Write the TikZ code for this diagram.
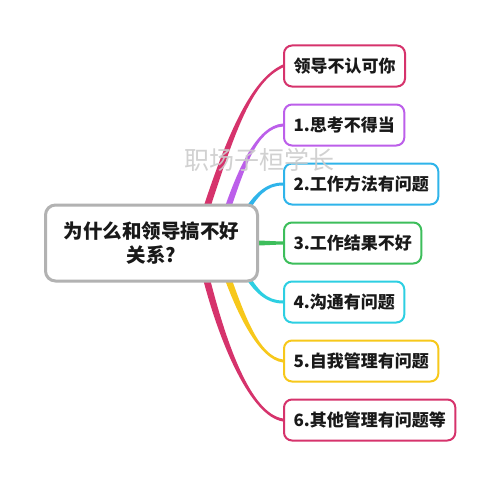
\documentclass[tikz,border=0pt]{standalone}
\usepackage{fontspec}
\setmainfont{Noto Sans CJK SC}
\usetikzlibrary{calc,backgrounds}
\definecolor{crim}{HTML}{D6336C}
\definecolor{purp}{HTML}{BC5FEA}
\definecolor{skyb}{HTML}{2FB4EA}
\definecolor{grn}{HTML}{3DBE5B}
\definecolor{cyn}{HTML}{2DCFE2}
\definecolor{ylw}{HTML}{F7C81B}
% tapered connector: colour, start, control 1, control 2, end, start half-width vector, end half-width vector
\newcommand\taperlink[7]{\fill[#1] ($#2+#6$) .. controls ($#3+#6$) and ($#4+#7$) .. ($#5+#7$)
  -- ($#5-#7$) .. controls ($#4-#7$) and ($#3-#6$) .. ($#2-#6$) -- cycle;}
\begin{document}
\begin{tikzpicture}[x=1pt,y=-1pt,
  leaf/.style={draw=#1, line width=2pt, rounded corners=8pt, fill=white, anchor=west,
    minimum height=41pt, inner xsep=9.5pt, font=\fontsize{17}{20}\selectfont\bfseries, text=black!90},
]
\useasboundingbox (0,0) rectangle (500,487);
\node[draw=black!30, line width=3pt, rounded corners=10pt, fill=white,
  minimum width=212pt, minimum height=76pt, align=center,
  font=\fontsize{19.5}{24}\selectfont\bfseries, text=black!90] (q) at (151.5,243)
  {为什么和领导搞不好\\关系?};
\node[leaf=crim] (a0) at (283,66) {领导不认可你};
\node[leaf=purp] (a1) at (283,125) {1.思考不得当};
\node[leaf=skyb] (a2) at (283,184) {2.工作方法有问题};
\node[leaf=grn] (a3) at (283,243) {3.工作结果不好};
\node[leaf=cyn] (a4) at (283,302) {4.沟通有问题};
\node[leaf=ylw] (a5) at (283,361) {5.自我管理有问题};
\node[leaf=crim] (a6) at (283,420) {6.其他管理有问题等};
\begin{scope}[on background layer]
\fill[white] (0,0) rectangle (500,487);
\taperlink{crim}{(q.center)+(53.5,-30)}{(a0.west)+(-51,64)}{(a0.west)+(-31,14)}{(a0.west)}{(3.5,0)}{(0,1.5)}
\taperlink{purp}{(q.center)+(74.5,-30)}{(a1.west)+(-42,45)}{(a1.west)+(-27,2)}{(a1.west)}{(3.3,0)}{(0,1.5)}
\taperlink{skyb}{(q.center)+(93.5,-30)}{(a2.west)+(-27,11)}{(a2.west)+(-17,0)}{(a2.west)}{(2,1)}{(0,1.5)}
\taperlink{grn}{(q.center)+(100,0)}{(a3.west)+(-20,0)}{(a3.west)+(-10,0)}{(a3.west)}{(0,2.6)}{(0,1.6)}
\taperlink{cyn}{(q.center)+(93.5,30)}{(a4.west)+(-27,-11)}{(a4.west)+(-17,0)}{(a4.west)}{(-2,1)}{(0,1.5)}
\taperlink{ylw}{(q.center)+(74.5,30)}{(a5.west)+(-42,-46)}{(a5.west)+(-24,-3)}{(a5.west)}{(-3.5,0)}{(0,1.5)}
\taperlink{crim}{(q.center)+(53.5,30)}{(a6.west)+(-60,-75)}{(a6.west)+(-32,-5)}{(a6.west)}{(-3.5,0)}{(0,1.5)}
\end{scope}
\node[text=black!20, font=\fontsize{25}{25}\selectfont, opacity=0.9] (wm) at (259,160) {职场子桓学长};
\end{tikzpicture}
\end{document}
